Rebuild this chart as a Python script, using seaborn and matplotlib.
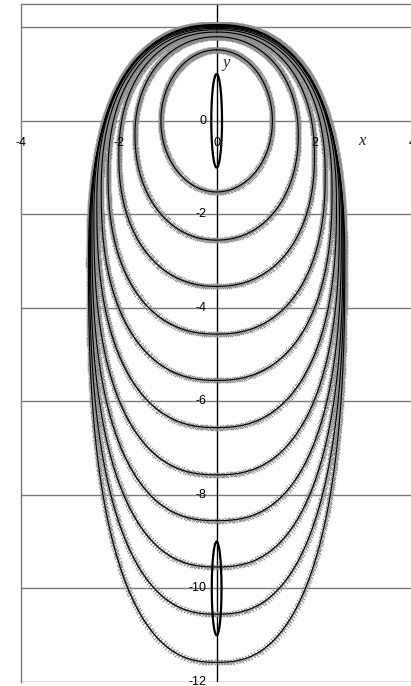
import numpy as np
import pandas as pd
import matplotlib
matplotlib.use("Agg")
import matplotlib.pyplot as plt
import seaborn as sns

# Closed trajectories: top, widest level, bottom, half-width and shape exponents
curve_top = [1.52, 1.80, 1.90, 1.95, 1.98, 2.00, 2.02, 2.03, 2.04, 2.05, 2.06]
curve_widest = [0.0, -0.30, -0.75, -1.15, -1.50, -1.80, -2.10, -2.35, -2.60, -2.80, -3.00]
curve_bottom = [-1.52, -2.55, -3.54, -4.56, -5.55, -6.56, -7.57, -8.55, -9.54, -10.55, -11.58]
curve_halfwidth = [1.14, 1.67, 2.00, 2.22, 2.36, 2.45, 2.51, 2.55, 2.58, 2.60, 2.62]
curve_n_top = [2.0, 2.1, 2.2, 2.25, 2.3, 2.35, 2.4, 2.4, 2.4, 2.4, 2.4]
curve_n_bottom = [2.0, 2.1, 2.2, 2.3, 2.35, 2.4, 2.45, 2.5, 2.5, 2.5, 2.5]

# Narrow marker ellipses: centre y, half-width, half-height
body_center_y = [0.0, -10.0]
body_halfwidth = [0.11, 0.10]
body_halfheight = [1.0, 1.0]

x_ticks = [-4, -2, 0, 2, 4]
y_ticks = [0, -2, -4, -6, -8, -10, -12]
grid_rows = [2, 0, -2, -4, -6, -8, -10, -12]


def closed_curve(top, mid, bottom, w, n_top, n_bot, num=6000):
    phi = np.linspace(0, 2 * np.pi, num)
    c, s = np.cos(phi), np.sin(phi)
    upper = c >= 0
    n = np.where(upper, n_top, n_bot)
    sx = np.sign(s) * np.abs(s) ** (2.0 / n)
    sy = np.sign(c) * np.abs(c) ** (2.0 / n)
    half = np.where(upper, top - mid, mid - bottom)
    return w * sx, mid + half * sy


line_rows = []
mark_rows = []
dt = 0.0172
for k, (T, M, B, W, nt, nb) in enumerate(zip(curve_top, curve_widest, curve_bottom,
                                             curve_halfwidth, curve_n_top, curve_n_bottom)):
    x, y = closed_curve(T, M, B, W, nt, nb)
    line_rows.append(pd.DataFrame({"x": x, "y": y, "curve": k}))
    # markers spaced evenly in time: slow near the top, fast near the bottom
    ds = np.hypot(np.diff(x), np.diff(y))
    speed = np.sqrt(0.3 + T - 0.5 * (y[1:] + y[:-1]))
    t = np.concatenate([[0], np.cumsum(ds / speed)])
    tm = np.arange(0, t[-1], dt)
    mark_rows.append(pd.DataFrame({"x": np.interp(tm, t, x), "y": np.interp(tm, t, y), "curve": k}))

lines = pd.concat(line_rows, ignore_index=True)
marks = pd.concat(mark_rows, ignore_index=True)

bodies = []
for j, (cy, bw, bh) in enumerate(zip(body_center_y, body_halfwidth, body_halfheight)):
    th = np.linspace(0, 2 * np.pi, 400)
    bodies.append(pd.DataFrame({"x": bw * np.sin(th), "y": cy + bh * np.cos(th), "body": j}))
bodies = pd.concat(bodies, ignore_index=True)

sns.set_theme(style="white")
plt.rcParams["font.family"] = ["Liberation Sans", "DejaVu Sans"]

fig = plt.figure(figsize=(4.11, 6.86), dpi=100)
ax = fig.add_axes([21 / 411, 4 / 686, 391.3 / 411, 678 / 686])
ax.set_xlim(-4, 4)
ax.set_ylim(-12, 2.5)

for gy in grid_rows:
    ax.axhline(gy, color="#7a7a7a", lw=1.0, zorder=1)
ax.axvline(0, color="black", lw=1.0, zorder=1)

for side in ["right", "bottom"]:
    ax.spines[side].set_visible(False)
for side in ["left", "top"]:
    ax.spines[side].set_color("#7a7a7a")
    ax.spines[side].set_linewidth(1.0)
ax.set_xticks([])
ax.set_yticks([])

sns.scatterplot(data=marks, x="x", y="y", marker="x", color="#8c8c8c", s=15,
                linewidth=0.7, legend=False, ax=ax, zorder=2)
sns.lineplot(data=lines, x="x", y="y", units="curve", estimator=None, sort=False,
             color="black", lw=0.8, legend=False, ax=ax, zorder=3)
sns.lineplot(data=bodies, x="x", y="y", units="body", estimator=None, sort=False,
             color="black", lw=1.6, legend=False, ax=ax, zorder=4)
ax.set_xlabel("")
ax.set_ylabel("")

for xv in x_ticks:
    ax.text(xv, -0.47, f"{xv}", ha="center", va="center", fontsize=9, color="black", zorder=5)
for yv in y_ticks:
    ax.text(-0.2, yv, f"{yv}", ha="right", va="center", fontsize=9, color="black", zorder=5)

ax.text(2.97, -0.44, "x", fontsize=12, style="italic", family=["Liberation Serif", "DejaVu Serif"],
        ha="center", va="center", zorder=5)
ax.text(0.2, 1.24, "y", fontsize=12, style="italic", family=["Liberation Serif", "DejaVu Serif"],
        ha="center", va="center", zorder=5)

fig.savefig("out.png", dpi=100)
